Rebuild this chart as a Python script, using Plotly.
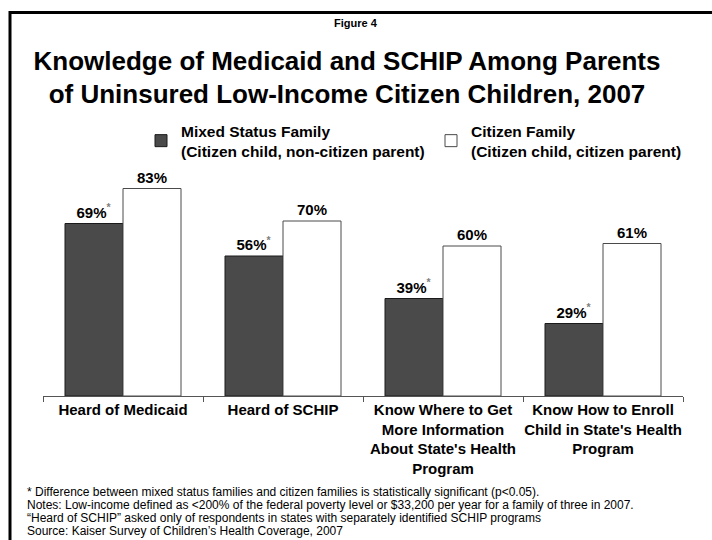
import plotly.graph_objects as go

# Survey results (percent of parents)
categories = [
    "Heard of Medicaid",
    "Heard of SCHIP",
    "Know Where to Get<br>More Information<br>About State's Health<br>Program",
    "Know How to Enroll<br>Child in State's Health<br>Program",
]
mixed_status = [69, 56, 39, 29]
citizen_family = [83, 70, 60, 61]
mixed_significant = [True, True, True, True]

series_names = [
    "Mixed Status Family<br>(Citizen child, non-citizen parent)",
    "Citizen Family<br>(Citizen child, citizen parent)",
]

footnotes = [
    "* Difference between mixed status families and citizen families is statistically significant (p<0.05).",
    "Notes: Low-income defined as <200% of the federal poverty level or $33,200 per year for a family of three in 2007.",
    "\u201cHeard of SCHIP\u201d asked only of respondents in states with separately identified SCHIP programs",
    "Source: Kaiser Survey of Children\u2019s Health Coverage, 2007",
]

FONT = "Liberation Sans, Arial, Helvetica, sans-serif"
W, H = 712, 540
PLOT_L, PLOT_R, PLOT_T, PLOT_B = 43, 683, 146, 396


def px_x(px):
    return (px - PLOT_L) / (PLOT_R - PLOT_L)


def px_y(py):
    return (PLOT_B - py) / (PLOT_B - PLOT_T)


def label(v, sig):
    s = f"{v}%"
    if sig:
        s += "<sup><span style='color:#7f7f7f'>*</span></sup>"
    return s


fig = go.Figure()
fig.add_trace(go.Bar(
    name=series_names[0], legend="legend", showlegend=True,
    x=categories, y=mixed_status,
    marker=dict(color="#4a4a4a", line=dict(color="#1a1a1a", width=1)),
    text=[label(v, s) for v, s in zip(mixed_status, mixed_significant)],
    textposition="outside",
    textfont=dict(family=FONT, size=15, color="black", weight="bold"),
    cliponaxis=False,
))
fig.add_trace(go.Bar(
    name=series_names[1], legend="legend2", showlegend=True,
    x=categories, y=citizen_family,
    marker=dict(color="white", line=dict(color="#4a4a4a", width=1)),
    text=[f"{v}%" for v in citizen_family],
    textposition="outside",
    textfont=dict(family=FONT, size=15, color="black", weight="bold"),
    cliponaxis=False,
))

annotations = [dict(
    text="Figure 4", x=px_x(356), y=px_y(23), xref="paper", yref="paper",
    xanchor="center", yanchor="middle", showarrow=False,
    font=dict(family=FONT, size=11, color="black", weight="bold"),
)]
for line, yy in zip(footnotes, [492, 505, 518, 531]):
    annotations.append(dict(
        text=line, x=px_x(25), y=px_y(yy), xref="paper", yref="paper",
        xanchor="left", yanchor="middle", showarrow=False,
        font=dict(family=FONT, size=12, color="black"),
    ))

legend_style = dict(
    orientation="v", xref="container", yref="container",
    xanchor="left", yanchor="top",
    font=dict(family=FONT, size=15.5, color="black", weight="bold"),
    bgcolor="rgba(0,0,0,0)", borderwidth=0,
)

fig.update_layout(
    width=W, height=H,
    showlegend=True,
    margin=dict(l=PLOT_L, r=W - PLOT_R, t=PLOT_T, b=H - PLOT_B, pad=0, autoexpand=False),
    paper_bgcolor="white", plot_bgcolor="white",
    font=dict(family=FONT, color="black"),
    barmode="group", bargap=0.275, bargroupgap=0,
    title=dict(
        text="Knowledge of Medicaid and SCHIP Among Parents<br>of Uninsured Low-Income Citizen Children, 2007",
        x=347 / W, xanchor="center", xref="container",
        y=1 - 69.5 / H, yanchor="middle", yref="container",
        font=dict(family=FONT, size=26, color="black", weight="bold"),
    ),
    legend=dict(legend_style, x=141 / W, y=1 - 114 / H),
    legend2=dict(legend_style, x=431 / W, y=1 - 114 / H),
    xaxis=dict(
        showline=True, linecolor="#555555", linewidth=1,
        ticks="outside", tickson="boundaries", ticklen=5, tickcolor="#555555",
        tickangle=0, automargin=False,
        tickfont=dict(family=FONT, size=15, color="black", weight="bold"),
        showgrid=False, zeroline=False,
    ),
    yaxis=dict(range=[0, 100], visible=False, showgrid=False, zeroline=False, automargin=False),
    annotations=annotations,
    shapes=[
        # slide frame (top and left edges; right/bottom run off the page)
        dict(type="rect", xref="paper", yref="paper",
             x0=px_x(10), x1=px_x(730), y0=px_y(560), y1=px_y(12.5),
             line=dict(color="black", width=3), fillcolor="rgba(0,0,0,0)", layer="below"),
    ],
)

fig.write_html("out.html")
